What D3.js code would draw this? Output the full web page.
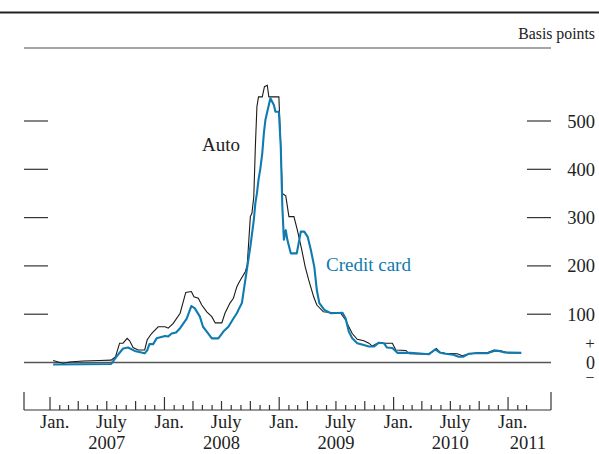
<!DOCTYPE html>
<html>
<head>
<meta charset="utf-8">
<script src="https://cdn.jsdelivr.net/npm/d3@7"></script>
<style>
  body { margin: 0; background: #fff; }
  text { font-family: "Liberation Serif", "Times New Roman", serif; }
</style>
</head>
<body>
<svg id="chart"></svg>
<script>
// Spreads, basis points (weekly readings)
let autoDates = ["2007-01-11","2007-02-12","2007-03-04","2007-04-16","2007-06-08","2007-07-15","2007-07-29","2007-08-11","2007-08-22","2007-09-04","2007-09-12","2007-09-23","2007-10-09","2007-10-30","2007-11-07","2007-11-21","2007-12-12","2008-01-03","2008-01-13","2008-01-29","2008-02-20","2008-03-09","2008-03-27","2008-04-04","2008-04-18","2008-04-29","2008-05-15","2008-05-31","2008-06-11","2008-07-02","2008-07-12","2008-07-28","2008-08-08","2008-08-19","2008-08-27","2008-09-15","2008-09-21","2008-10-01","2008-10-06","2008-10-12","2008-10-17","2008-10-22","2008-10-27","2008-11-08","2008-11-15","2008-11-24","2008-11-29","2008-12-31","2009-01-06","2009-01-11","2009-01-22","2009-02-01","2009-02-17","2009-02-28","2009-03-14","2009-03-25","2009-04-05","2009-04-21","2009-05-01","2009-05-22","2009-06-19","2009-07-15","2009-08-01","2009-08-11","2009-08-22","2009-09-07","2009-09-28","2009-10-14","2009-10-25","2009-11-10","2009-12-28","2010-01-08","2010-02-09","2010-02-20","2010-04-18","2010-05-04","2010-05-17","2010-05-30","2010-06-15","2010-07-23","2010-08-08","2010-08-24","2010-09-25","2010-10-27","2010-11-17","2010-12-09","2010-12-31","2011-02-12"];
let autoValues = [4,-2,1,3,4,5,12,40,40,50,45,31,26,26,47,60,74,74,71,81,102,145,147,136,133,119,105,95,82,82,102,123,133,157,167,188,202,302,309,343,447,530,550,550,571,574,550,550,447,350,345,302,302,274,233,198,171,136,119,105,103,103,88,74,60,48,45,40,34,40,40,26,25,18,17,22,29,21,19,18,14,17,20,20,26,24,20,20];

let cardDates = ["2007-01-11","2007-07-15","2007-08-01","2007-08-22","2007-09-07","2007-09-28","2007-10-30","2007-11-07","2007-11-14","2007-11-26","2007-12-07","2008-01-03","2008-01-13","2008-01-24","2008-02-07","2008-02-20","2008-03-12","2008-03-27","2008-04-07","2008-04-23","2008-05-03","2008-05-15","2008-05-31","2008-06-21","2008-07-07","2008-07-23","2008-08-08","2008-08-19","2008-08-24","2008-09-04","2008-09-15","2008-10-01","2008-10-12","2008-10-17","2008-10-22","2008-10-27","2008-11-02","2008-11-08","2008-11-13","2008-11-18","2008-11-24","2008-11-29","2008-12-04","2008-12-15","2008-12-20","2008-12-31","2009-01-06","2009-01-11","2009-01-16","2009-01-22","2009-01-27","2009-02-07","2009-02-26","2009-03-11","2009-03-22","2009-04-02","2009-04-12","2009-04-23","2009-05-01","2009-05-09","2009-05-25","2009-06-15","2009-07-22","2009-08-01","2009-08-11","2009-08-22","2009-09-07","2009-09-28","2009-10-14","2009-10-30","2009-11-15","2009-12-01","2009-12-11","2009-12-28","2010-01-13","2010-02-24","2010-03-17","2010-04-23","2010-05-14","2010-05-30","2010-06-15","2010-07-11","2010-07-27","2010-08-12","2010-08-28","2010-09-18","2010-10-27","2010-11-17","2010-12-03","2010-12-19","2011-02-12"];
let cardValues = [-4,-3,12,29,31,24,19,25,38,38,50,55,54,60,62,71,91,117,112,95,74,64,50,50,64,74,91,102,109,123,171,240,295,330,350,378,402,433,474,502,519,533,547,533,519,519,447,323,254,274,254,226,226,271,271,260,233,198,150,123,109,102,103,91,64,50,40,36,33,33,41,40,31,30,20,20,19,17,27,20,18,16,12,12,18,19,19,24,24,21,20];

let yTicks = [100, 200, 300, 400, 500];
let monthLabels = ["Jan.", "July"];
let yearLabels = ["2007", "2008", "2009", "2010", "2011"];

let width = 599, height = 454;
let parse = d3.timeParse("%Y-%m-%d");

let svg = d3.select("#chart")
  .attr("viewBox", [0, 0, width, height])
  .attr("width", width)
  .attr("height", height);

let x = d3.scaleTime()
  .domain([new Date(2006, 9, 10), new Date(2011, 4, 18)])
  .range([24, 551]);

let y = d3.scaleLinear().domain([0, 500]).range([362.5, 121]);

// Top rule and header
svg.append("line").attr("x1", 0).attr("x2", width).attr("y1", 12.5).attr("y2", 12.5)
  .attr("stroke", "#222").attr("stroke-width", 2);
svg.append("text").attr("x", 595).attr("y", 39).attr("text-anchor", "end")
  .style("font-size", "15.8px").attr("fill", "#222").text("Basis points");
svg.append("line").attr("x1", 24).attr("x2", 551).attr("y1", 48).attr("y2", 48)
  .attr("stroke", "#888").attr("stroke-width", 1.4);

// Y ticks, both sides
let ticks = svg.append("g").selectAll("g").data(yTicks).join("g");
ticks.append("line").attr("x1", 24).attr("x2", 48)
  .attr("y1", (d) => y(d)).attr("y2", (d) => y(d))
  .attr("stroke", "#333").attr("stroke-width", 1.2);
ticks.append("line").attr("x1", 527).attr("x2", 551)
  .attr("y1", (d) => y(d)).attr("y2", (d) => y(d))
  .attr("stroke", "#333").attr("stroke-width", 1.2);
ticks.append("text").attr("x", 595).attr("y", (d) => y(d) + 6.5)
  .attr("text-anchor", "end").style("font-size", "18.5px").attr("fill", "#222")
  .text((d) => d);

// Sign markers around zero
svg.append("text").attr("x", 590).attr("y", y(0) - 14).attr("text-anchor", "middle")
  .style("font-size", "17px").attr("fill", "#222").text("+");
svg.append("text").attr("x", 595).attr("y", y(0) + 6.5).attr("text-anchor", "end")
  .style("font-size", "18px").attr("fill", "#222").text("0");
svg.append("text").attr("x", 590).attr("y", y(0) + 20).attr("text-anchor", "middle")
  .style("font-size", "16px").attr("fill", "#222").text("\u2212");

// Zero line
svg.append("line").attr("x1", 24).attr("x2", 551).attr("y1", y(0)).attr("y2", y(0))
  .attr("stroke", "#555").attr("stroke-width", 1.3);

// X axis
let axisY = 410;
let axis = svg.append("g").attr("stroke", "#333").attr("stroke-width", 1.2);
axis.append("line").attr("x1", 24).attr("x2", 551).attr("y1", axisY).attr("y2", axisY);
axis.append("line").attr("x1", 24).attr("x2", 24).attr("y1", axisY).attr("y2", axisY - 18);
axis.append("line").attr("x1", 551).attr("x2", 551).attr("y1", axisY).attr("y2", axisY - 18);

let months = d3.timeMonth.range(new Date(2007, 0, 1), new Date(2011, 3, 1));
axis.selectAll("line.m").data(months).join("line").attr("class", "m")
  .attr("x1", (d) => x(d)).attr("x2", (d) => x(d))
  .attr("y1", axisY)
  .attr("y2", (d) => {
    let m = d.getMonth();
    if (m == 0) return axisY - 13;
    if (m % 3 == 0) return axisY - 9;
    return axisY - 5;
  });

let labelMonths = months.filter((d) => d.getMonth() == 0 || d.getMonth() == 6);
svg.append("g").selectAll("text").data(labelMonths).join("text")
  .attr("x", (d) => x(d3.timeDay.offset(d, 15)))
  .attr("y", 428)
  .attr("text-anchor", "middle").style("font-size", "18.5px").attr("fill", "#222")
  .text((d) => d.getMonth() == 0 ? monthLabels[0] : monthLabels[1]);

svg.append("g").selectAll("text").data(yearLabels).join("text")
  .attr("x", (d) => d == "2011" ? x(new Date(2011, 2, 5)) : x(new Date(+d, 6, 1)))
  .attr("y", 449)
  .attr("text-anchor", "middle").style("font-size", "18.5px").attr("fill", "#222")
  .text((d) => d);

// Series
let autoData = autoDates.map((d, i) => ({ date: parse(d), value: autoValues[i] }));
let cardData = cardDates.map((d, i) => ({ date: parse(d), value: cardValues[i] }));

let line = d3.line().x((d) => x(d.date)).y((d) => y(d.value));

svg.append("path").datum(autoData).attr("d", line)
  .attr("fill", "none").attr("stroke", "#1a1a1a").attr("stroke-width", 1.1);
svg.append("path").datum(cardData).attr("d", line)
  .attr("fill", "none").attr("stroke", "#0f7bb0").attr("stroke-width", 2.1)
  .attr("stroke-linejoin", "round");

svg.append("text").attr("x", 202).attr("y", 151).style("font-size", "19px")
  .attr("fill", "#222").text("Auto");
svg.append("text").attr("x", 326).attr("y", 271).style("font-size", "19px")
  .attr("fill", "#0f7bb0").text("Credit card");
</script>
</body>
</html>
